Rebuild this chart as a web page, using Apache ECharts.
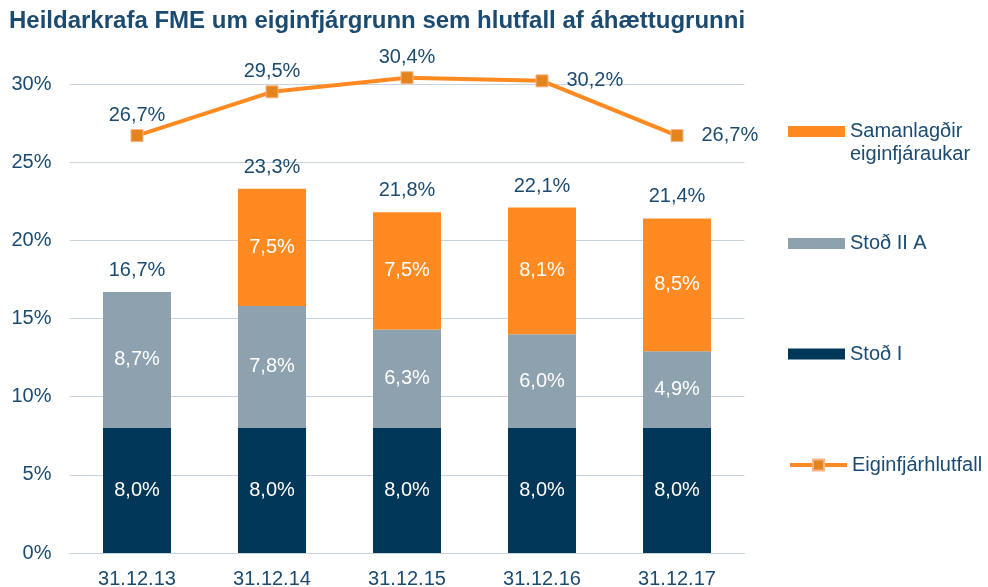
<!DOCTYPE html>
<html>
<head>
<meta charset="utf-8">
<script src="https://cdn.jsdelivr.net/npm/echarts@6/dist/echarts.min.js"></script>
<style>
  html, body { margin: 0; padding: 0; background: #ffffff; }
  #chart { width: 988px; height: 587px; }
</style>
</head>
<body>
<div id="chart"></div>
<script>
// Dagsetningar og hlutföll (% af áhættugrunni)
const categories = ['31.12.13', '31.12.14', '31.12.15', '31.12.16', '31.12.17'];
const stodI = [8.0, 8.0, 8.0, 8.0, 8.0];
const stodIIA = [8.7, 7.8, 6.3, 6.0, 4.9];
const eiginfjaraukar = [null, 7.5, 7.5, 8.1, 8.5];
const eiginfjarhlutfall = [26.7, 29.5, 30.4, 30.2, 26.7];
const yTicks = [0, 5, 10, 15, 20, 25, 30];

const totals = categories.map((_, i) =>
  +((stodI[i] || 0) + (stodIIA[i] || 0) + (eiginfjaraukar[i] || 0)).toFixed(1));

const NAVY = '#003657';
const GREY = '#8DA1AF';
const ORANGE = '#FF8A21';
const TEXT = '#1B4B70';
const GRID = '#C9D3DD';
const FONT = '"Liberation Sans", Arial, sans-serif';

const pct = v => v.toFixed(1).replace('.', ',') + '%';

const insideLabel = {
  show: true,
  position: 'inside',
  color: '#ffffff',
  fontFamily: FONT,
  fontSize: 20,
  formatter: p => pct(p.value)
};

// Staðsetning merkimiða á línu
const linePos = ['top', 'top', 'top', 'right', 'right'];

const legendBase = {
  orient: 'vertical',
  left: 788,
  padding: 0,
  itemWidth: 57,
  itemHeight: 11,
  icon: 'rect',
  textStyle: { color: TEXT, fontFamily: FONT, fontSize: 20, lineHeight: 23 }
};

const chart = echarts.init(document.getElementById('chart'));
chart.setOption({
  animation: false,
  backgroundColor: '#ffffff',
  title: {
    text: 'Heildarkrafa FME um eiginfjárgrunn sem hlutfall af áhættugrunni',
    left: 9,
    top: 9,
    padding: 0,
    textStyle: { color: TEXT, fontFamily: FONT, fontSize: 24, fontWeight: 'bold' }
  },
  legend: [
    Object.assign({}, legendBase, {
      top: 97,
      data: ['Samanlagðir\neiginfjáraukar'],
      // tóm fyrsta lína svo táknið standi við fyrri línuna
      formatter: name => '\u00a0\n' + name
    }),
    Object.assign({}, legendBase, { top: 232, data: ['Stoð II A'] }),
    Object.assign({}, legendBase, { top: 342.5, data: ['Stoð I'] }),
    Object.assign({}, legendBase, {
      top: 453.5,
      icon: null,
      itemHeight: 14,
      lineStyle: { width: 4 },
      data: ['Eiginfjárhlutfall']
    })
  ],
  grid: {
    left: 69.5, right: 243.5, top: 84, bottom: 34,
    containLabel: false,
    outerBoundsMode: 'none'
  },
  xAxis: {
    type: 'category',
    data: categories,
    axisLine: { lineStyle: { color: GRID, width: 1 } },
    axisTick: { show: false },
    axisLabel: { color: TEXT, fontFamily: FONT, fontSize: 20, margin: 16 }
  },
  yAxis: {
    type: 'value',
    min: yTicks[0],
    max: yTicks[yTicks.length - 1],
    interval: 5,
    axisLine: { show: false },
    axisTick: { show: false },
    splitLine: { lineStyle: { color: GRID, width: 1 } },
    axisLabel: { color: TEXT, fontFamily: FONT, fontSize: 20, margin: 18, formatter: '{value}%' }
  },
  series: [
    {
      name: 'Stoð I',
      type: 'bar',
      stack: 'krafa',
      barWidth: 68,
      data: stodI,
      itemStyle: { color: NAVY },
      label: insideLabel
    },
    {
      name: 'Stoð II A',
      type: 'bar',
      stack: 'krafa',
      data: stodIIA,
      itemStyle: { color: GREY },
      label: insideLabel
    },
    {
      name: 'Samanlagðir\neiginfjáraukar',
      type: 'bar',
      stack: 'krafa',
      data: eiginfjaraukar,
      itemStyle: { color: ORANGE },
      label: insideLabel
    },
    {
      // Heildarkrafa ofan á súlum
      name: 'Heild',
      type: 'scatter',
      data: totals,
      symbolSize: 1,
      itemStyle: { color: 'transparent', opacity: 1 },
      silent: true,
      label: {
        show: true,
        position: 'top',
        distance: 11,
        color: TEXT,
        fontFamily: FONT,
        fontSize: 20,
        formatter: p => pct(p.value)
      }
    },
    {
      name: 'Eiginfjárhlutfall',
      type: 'line',
      clip: false,
      z: 5,
      data: eiginfjarhlutfall.map((v, i) => ({
        value: v,
        label: {
          position: linePos[i],
          distance: linePos[i] === 'top' ? 4 : 18
        }
      })),
      lineStyle: { color: ORANGE, width: 4 },
      symbol: 'rect',
      symbolSize: 12,
      itemStyle: { color: '#E4841C', borderColor: '#F8B58A', borderWidth: 1 },
      label: {
        show: true,
        color: TEXT,
        fontFamily: FONT,
        fontSize: 20,
        formatter: p => pct(p.value)
      }
    }
  ]
});
</script>
</body>
</html>
